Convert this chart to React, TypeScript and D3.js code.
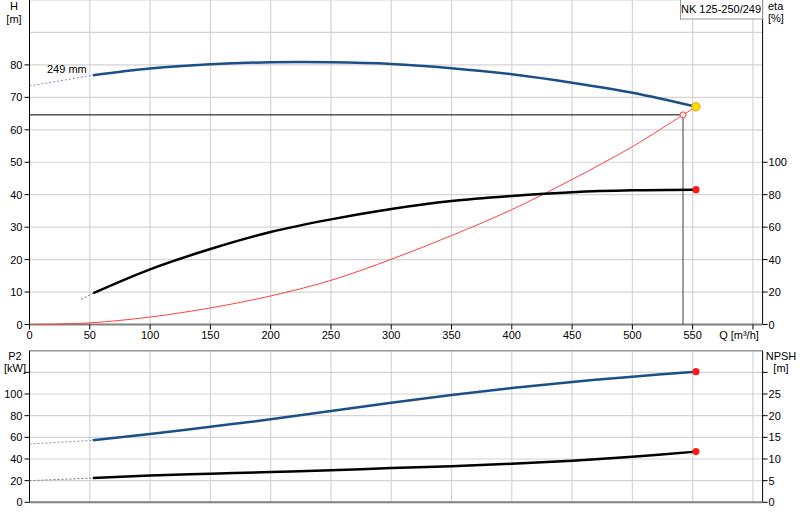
import React from "react";
import * as d3 from "d3";

// ---- data ----
const xTickVals = [0, 50, 100, 150, 200, 250, 300, 350, 400, 450, 500, 550, 600];
const xTickLabels = ["0", "50", "100", "150", "200", "250", "300", "350", "400", "450", "500", "550", ""];
const hGridVals = [0, 10, 20, 30, 40, 50, 60, 70, 80, 90, 100];
const hTickVals = [0, 10, 20, 30, 40, 50, 60, 70, 80];
const hTickLabels = ["0", "10", "20", "30", "40", "50", "60", "70", "80"];
const etaTickVals = [0, 20, 40, 60, 80, 100];
const etaTickLabels = ["0", "20", "40", "60", "80", "100"];
const p2GridVals = [0, 20, 40, 60, 80, 100, 120, 140];
const p2TickVals = [0, 20, 40, 60, 80, 100, 120];
const p2TickLabels = ["0", "20", "40", "60", "80", "100", ""];
const npshTickVals = [0, 5, 10, 15, 20, 25, 30];
const npshTickLabels = ["0", "5", "10", "15", "20", "25", ""];

const qMain = [52.5, 100, 150, 200, 250, 300, 350, 400, 450, 500, 552.7];
const hVals = [76.8, 78.9, 80.2, 80.8, 80.8, 80.3, 79.0, 77.1, 74.5, 71.4, 67.1];
const qHDot = [0, 52.5];
const hDot = [73.5, 76.8];

const qEta = [52.9, 100, 150, 200, 250, 300, 350, 400, 450, 500, 552.7];
const etaVals = [19.3, 34.0, 46.5, 57.0, 64.8, 71.2, 76.1, 79.2, 81.5, 82.7, 83.1];
const qEtaDot = [42.7, 52.9];
const etaDot = [15.5, 19.3];

const qSys = [5, 50, 100, 150, 200, 250, 300, 350, 400, 450, 500, 542, 552.7];
const hSys = [0.02, 0.5, 2.3, 5.1, 8.8, 13.6, 20.1, 27.4, 35.4, 44.7, 54.8, 64.6, 67.1];

const p2Vals = [57.2, 63.1, 69.8, 76.6, 84.3, 92.0, 99.1, 105.5, 111.1, 116.0, 120.6];
const qP2Dot = [0, 52.5];
const p2Dot = [53.8, 57.2];

const npshVals = [5.6, 6.2, 6.6, 7.0, 7.4, 7.9, 8.3, 8.9, 9.6, 10.5, 11.7];
const qNpshDot = [0, 52.5];
const npshDot = [5.0, 5.6];

const dutyQ = 542;
const dutyH = 64.6;
const pumpLabel = "NK 125-250/249";
const diameterLabel = "249 mm";

// ---- layout ----
const X0 = 29.5, X1 = 762.6;
const TOP_Y0 = 324.5, TOP_Y1 = 0;
const BOT_Y0 = 502.3, BOT_Y1 = 350.7;

const x = d3.scaleLinear().domain([0, 608]).range([X0, X1]);
const yH = d3.scaleLinear().domain([0, 100]).range([TOP_Y0, TOP_Y1]);
const yEta = d3.scaleLinear().domain([0, 200]).range([TOP_Y0, TOP_Y1]);
const yP2 = d3.scaleLinear().domain([0, 140]).range([BOT_Y0, BOT_Y1]);
const yNpsh = d3.scaleLinear().domain([0, 35]).range([BOT_Y0, BOT_Y1]);

const BLUE = "#1b4f8a";
const FONT = "Liberation Sans, Arial, sans-serif";

function path(qs: number[], vs: number[], ys: d3.ScaleLinear<number, number>) {
  const line = d3
    .line<number>()
    .x((_, i) => x(qs[i]))
    .y((v) => ys(v))
    .curve(d3.curveCatmullRom.alpha(0.5));
  return line(vs) || "";
}

export default function App() {
  const gridX = xTickVals.filter((v) => v > 0);
  return (
    <svg
      width={800}
      height={520}
      style={{ position: "absolute", left: 0, top: 0, background: "#fff" }}
      fontFamily={FONT}
      fontSize={11}
    >
      <rect x={0} y={0} width={800} height={520} fill="#fff" />
      {/* ---------- TOP PANEL ---------- */}
      {hGridVals.map((v) => (
        <line key={"hg" + v} x1={X0} x2={X1} y1={yH(v)} y2={yH(v)} stroke="#d4d4d4" strokeWidth={1.2} />
      ))}
      {gridX.map((v) => (
        <line key={"vg" + v} x1={x(v)} x2={x(v)} y1={TOP_Y1} y2={TOP_Y0} stroke="#d4d4d4" strokeWidth={1.2} />
      ))}
      {/* axes */}
      <line x1={X0} x2={X0} y1={0} y2={TOP_Y0} stroke="#000" strokeWidth={1} />
      <line x1={X1} x2={X1} y1={0} y2={TOP_Y0} stroke="#000" strokeWidth={1} />
      {hTickVals.map((v, i) => (
        <g key={"ht" + v}>
          <line x1={X0 - 5} x2={X0} y1={yH(v)} y2={yH(v)} stroke="#000" />
          {hTickLabels[i] && (
            <text x={X0 - 7} y={yH(v) + 4} textAnchor="end" fill="#000">
              {hTickLabels[i]}
            </text>
          )}
        </g>
      ))}
      {etaTickVals.map((v, i) => (
        <g key={"et" + v}>
          <line x1={X1} x2={X1 + 5} y1={yEta(v)} y2={yEta(v)} stroke="#000" />
          {etaTickLabels[i] && (
            <text x={X1 + 6} y={yEta(v) + 4} textAnchor="start" fill="#000">
              {etaTickLabels[i]}
            </text>
          )}
        </g>
      ))}
      <line x1={X0} x2={X1} y1={TOP_Y0} y2={TOP_Y0} stroke="#808080" strokeWidth={2} />
      {xTickVals.map((v, i) => (
        <g key={"xt" + v}>
          <line x1={x(v)} x2={x(v)} y1={TOP_Y0} y2={TOP_Y0 + 5} stroke="#000" />
          {xTickLabels[i] && (
            <text x={x(v)} y={TOP_Y0 + 14} textAnchor="middle" fill="#000">
              {xTickLabels[i]}
            </text>
          )}
        </g>
      ))}
      <text x={739} y={TOP_Y0 + 14} textAnchor="middle" fill="#000">Q [m³/h]</text>
      <text x={14} y={10} textAnchor="middle" fill="#000">H</text>
      <text x={14} y={23} textAnchor="middle" fill="#000">[m]</text>
      <text x={768} y={10} textAnchor="start" fill="#000">eta</text>
      <text x={768} y={22} textAnchor="start" fill="#000">[%]</text>

      {/* system curve */}
      <path d={path(qSys, hSys, yH)} fill="none" stroke="#ff4040" strokeWidth={1} />
      {/* duty lines */}
      <line x1={X0} x2={x(dutyQ)} y1={yH(dutyH)} y2={yH(dutyH)} stroke="#000" strokeWidth={1} />
      <line x1={x(dutyQ)} x2={x(dutyQ)} y1={yH(dutyH)} y2={TOP_Y0} stroke="#6a6a6a" strokeWidth={1.3} />
      {/* H curve */}
      <path d={path(qHDot, hDot, yH)} fill="none" stroke="#8090b0" strokeWidth={1} strokeDasharray="2,2" />
      <path d={path(qMain, hVals, yH)} fill="none" stroke={BLUE} strokeWidth={2.5} />
      {/* eta curve */}
      <path d={path(qEtaDot, etaDot, yEta)} fill="none" stroke="#777" strokeWidth={1} strokeDasharray="2,2" />
      <path d={path(qEta, etaVals, yEta)} fill="none" stroke="#000" strokeWidth={2.5} />
      {/* points */}
      <circle cx={x(dutyQ)} cy={yH(dutyH)} r={3} fill="#fff0f0" stroke="#ff4040" strokeWidth={1} />
      <circle cx={x(qMain[qMain.length - 1])} cy={yH(hVals[hVals.length - 1])} r={4.2} fill="#ffe000" stroke="#f0a000" strokeWidth={1} />
      <circle cx={x(qEta[qEta.length - 1])} cy={yEta(etaVals[etaVals.length - 1])} r={3.6} fill="#ff1a1a" />
      <text x={47} y={73} fill="#000">{diameterLabel}</text>
      {/* legend box */}
      <rect x={680.5} y={-1} width={82} height={20} fill="#fff" stroke="#999" strokeWidth={1} />
      <text x={721} y={13} textAnchor="middle" fill="#000">{pumpLabel}</text>

      {/* ---------- BOTTOM PANEL ---------- */}
      {p2GridVals.map((v) => (
        <line key={"pg" + v} x1={X0} x2={X1} y1={yP2(v)} y2={yP2(v)} stroke="#d4d4d4" strokeWidth={1.2} />
      ))}
      {gridX.map((v) => (
        <line key={"bvg" + v} x1={x(v)} x2={x(v)} y1={BOT_Y1} y2={BOT_Y0} stroke="#d4d4d4" strokeWidth={1.2} />
      ))}
      <line x1={X0} x2={X1} y1={BOT_Y1} y2={BOT_Y1} stroke="#999" strokeWidth={1.5} />
      <line x1={X0} x2={X0} y1={BOT_Y1} y2={BOT_Y0} stroke="#000" strokeWidth={1} />
      <line x1={X1} x2={X1} y1={BOT_Y1} y2={BOT_Y0} stroke="#000" strokeWidth={1} />
      <line x1={X0} x2={X1} y1={BOT_Y0} y2={BOT_Y0} stroke="#808080" strokeWidth={2} />
      {p2TickVals.map((v, i) => (
        <g key={"pt" + v}>
          <line x1={X0 - 5} x2={X0} y1={yP2(v)} y2={yP2(v)} stroke="#000" />
          {p2TickLabels[i] && (
            <text x={X0 - 7} y={yP2(v) + 4} textAnchor="end" fill="#000">
              {p2TickLabels[i]}
            </text>
          )}
        </g>
      ))}
      {npshTickVals.map((v, i) => (
        <g key={"nt" + v}>
          <line x1={X1} x2={X1 + 5} y1={yNpsh(v)} y2={yNpsh(v)} stroke="#000" />
          {npshTickLabels[i] && (
            <text x={X1 + 6} y={yNpsh(v) + 4} textAnchor="start" fill="#000">
              {npshTickLabels[i]}
            </text>
          )}
        </g>
      ))}
      <text x={15} y={360} textAnchor="middle" fill="#000">P2</text>
      <text x={15} y={372} textAnchor="middle" fill="#000">[kW]</text>
      <text x={781} y={360} textAnchor="middle" fill="#000">NPSH</text>
      <text x={781} y={372} textAnchor="middle" fill="#000">[m]</text>

      <path d={path(qP2Dot, p2Dot, yP2)} fill="none" stroke="#8090b0" strokeWidth={1} strokeDasharray="2,2" />
      <path d={path(qMain, p2Vals, yP2)} fill="none" stroke={BLUE} strokeWidth={2.5} />
      <path d={path(qNpshDot, npshDot, yNpsh)} fill="none" stroke="#777" strokeWidth={1} strokeDasharray="2,2" />
      <path d={path(qMain, npshVals, yNpsh)} fill="none" stroke="#000" strokeWidth={2.5} />
      <circle cx={x(qMain[qMain.length - 1])} cy={yP2(p2Vals[p2Vals.length - 1])} r={3.6} fill="#ff1a1a" />
      <circle cx={x(qMain[qMain.length - 1])} cy={yNpsh(npshVals[npshVals.length - 1])} r={3.6} fill="#ff1a1a" />
    </svg>
  );
}
